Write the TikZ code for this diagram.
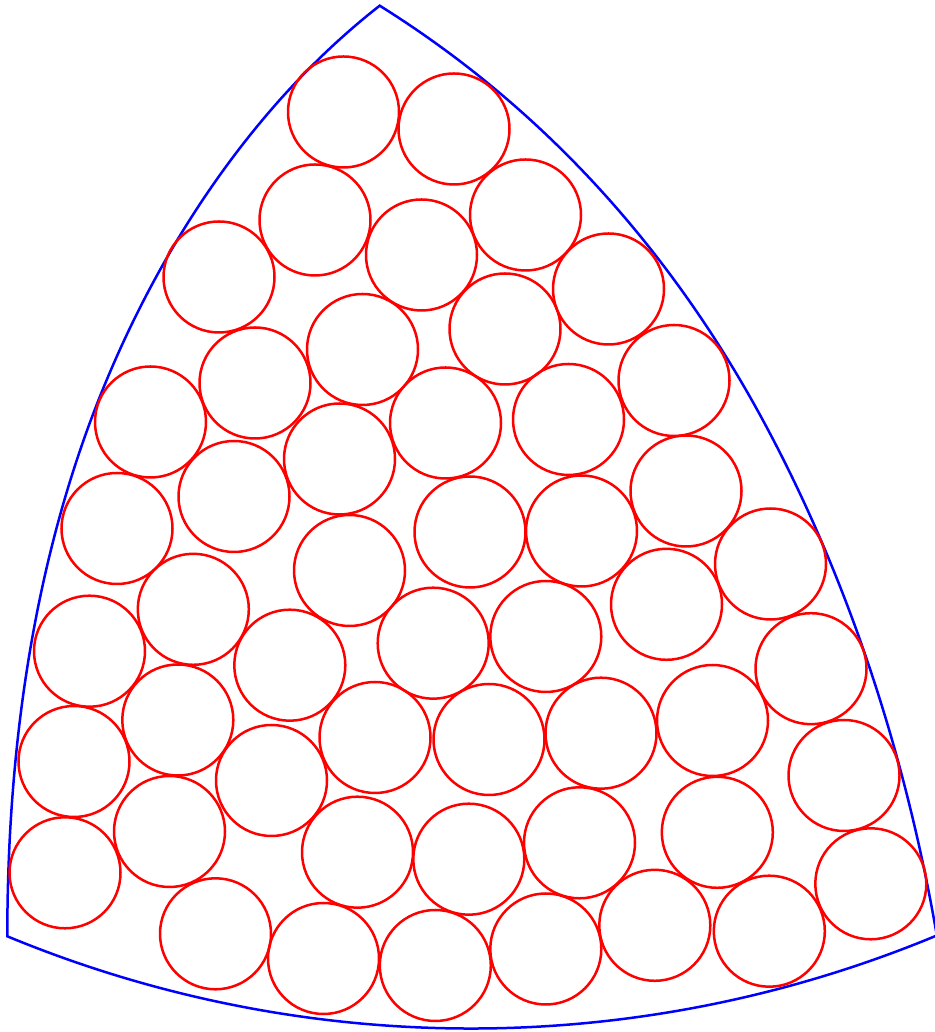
\documentclass[tikz,border=0pt]{standalone}
\begin{document}
\begin{tikzpicture}[x=1pt,y=1pt,
  ring/.style={draw=red, line width=2.5pt},
  edge/.style={draw=blue, line width=2.5pt, line join=miter}]
\useasboundingbox (0,0) rectangle (934,1032);
% curved triangle
\draw[edge] (379.7,1026.3)
  .. controls (251.3,925.9) and (155.9,779.2) .. (96.7,627.3)
  .. controls (31.4,459.5) and (7.3,275.7) .. (7.3,95.7)
  arc[start angle=247.5, end angle=292.6, radius=1212]
  .. controls (906.4,272.5) and (850.3,448.7) .. (765.3,607.3)
  .. controls (675.6,774.7) and (549.3,920.3) .. cycle;
% packed circles (image coordinates, y downward)
\foreach \x/\y in {
  343.5/112, 454/129,
  315/220, 525.5/215, 421.5/255,
  219/277, 608.5/289, 505/329,
  362.5/349.5, 255/383, 674/380.5,
  150.5/422, 445.5/423, 568.5/419.5,
  339.5/459, 234/496.5, 686/491,
  117/528.5, 470/532, 581.5/531,
  349.5/570.5, 770.5/564, 193.3/609.3,
  666.5/604.3, 89.5/651.2, 289.8/665.2, 433.2/643.2, 545.8/636.5, 811/668.7,
  177.8/720, 74/761.5, 712.5/720.5, 375/737.5, 489/739.5, 601/733.2,
  271.5/780.5, 844/775.5,
  169.5/831.5, 65/872.8, 717.3/832.3, 357.5/852.2, 468.8/859.2, 579.5/842.8, 870.8/883.8,
  215.5/933.8, 323.5/958.5, 435.3/965.5, 545.8/949, 654.8/925.3, 769.3/931.2}
  \draw[ring] ({\x},{1032-\y}) circle[radius=55.5];
\end{tikzpicture}
\end{document}
